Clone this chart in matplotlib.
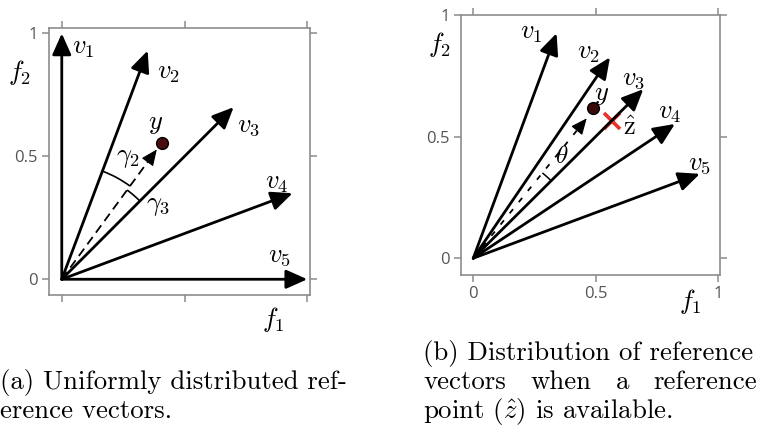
import matplotlib
matplotlib.use("Agg")
import matplotlib.pyplot as plt
import numpy as np
from matplotlib.patches import Arc

plt.rcParams["mathtext.fontset"] = "cm"

# panel (a): uniformly distributed reference vectors
vec_a_x = [0.0, 0.35, 0.70, 0.94, 1.0]
vec_a_y = [1.0, 0.93, 0.70, 0.35, 0.0]
point_a = [0.407, 0.556]
proj_a = [0.387, 0.528]

# panel (b): vectors focused around the reference point
vec_b_x = [0.34, 0.558, 0.694, 0.823, 0.925]
vec_b_y = [0.925, 0.826, 0.695, 0.552, 0.347]
point_b = [0.487, 0.617]
proj_b = [0.463, 0.575]
z_hat = [0.565, 0.566]

vec_labels = [r"$v_1$", r"$v_2$", r"$v_3$", r"$v_4$", r"$v_5$"]
tick_vals = [0, 0.5, 1]
tick_text = ["0", "0.5", "1"]

W, H = 760, 434
FRAME = "#8c8c8c"
LBL = 19


def setup_axis(ax, xlim, ylim, xlabels):
    ax.set_xlim(*xlim)
    ax.set_ylim(*ylim)
    ax.set_xticks(tick_vals)
    ax.set_yticks(tick_vals)
    ax.set_yticklabels(tick_text)
    ax.set_xticklabels(tick_text if xlabels else [])
    for sp in ax.spines.values():
        sp.set_color(FRAME)
        sp.set_linewidth(1.2)
    ax.tick_params(direction="out", length=5, width=1.1, color=FRAME,
                   labelcolor="#555555", labelsize=12, pad=3,
                   top=True, right=True, labeltop=False, labelright=False,
                   labelbottom=xlabels)
    for lab in ax.get_xticklabels() + ax.get_yticklabels():
        lab.set_fontfamily("Open Sans")


def draw_vec(ax, x, y, lw=2.0, hl=0.65, hw=0.29):
    ax.annotate("", xy=(x, y), xytext=(0, 0),
                arrowprops=dict(arrowstyle=f"-|>,head_length={hl},head_width={hw}",
                                mutation_scale=20, lw=lw, color="black",
                                shrinkA=0, shrinkB=0))


def draw_dashed(ax, end, dashes):
    ex, ey = end
    ax.plot([0, ex * 0.96], [0, ey * 0.96], color="black", lw=1.3,
            dashes=dashes, solid_capstyle="butt")
    ax.annotate("", xy=(ex, ey), xytext=(ex * 0.94, ey * 0.94),
                arrowprops=dict(arrowstyle="-|>,head_length=0.5,head_width=0.22",
                                mutation_scale=20, lw=0.8, color="black",
                                shrinkA=0, shrinkB=0))


fig = plt.figure(figsize=(W / 100, H / 100), dpi=100)

# ---- (a)
ax_a = fig.add_axes([49 / W, (H - 295) / H, 261 / W, 267 / H])
setup_axis(ax_a, (-0.052, 1.011), (-0.064, 1.022), xlabels=False)
for x, y in zip(vec_a_x, vec_a_y):
    draw_vec(ax_a, x, y)
draw_dashed(ax_a, proj_a, (5, 3))
ax_a.plot(*point_a, "o", ms=8.5, mfc="#4a0c0c", mec="black", mew=1.0)

ang_proj = np.degrees(np.arctan2(proj_a[1], proj_a[0]))
ang_v2 = np.degrees(np.arctan2(vec_a_y[1], vec_a_x[1]))
ang_v3 = np.degrees(np.arctan2(vec_a_y[2], vec_a_x[2]))
ax_a.add_patch(Arc((0, 0), 0.94, 0.94, theta1=ang_proj, theta2=ang_v2, lw=1.2))
ax_a.add_patch(Arc((0, 0), 0.90, 0.90, theta1=ang_v3, theta2=ang_proj, lw=1.2))

lab_pos_a = [(0.088, 0.946), (0.434, 0.844), (0.76, 0.627), (0.874, 0.397), (0.888, 0.099)]
for (lx, ly), t in zip(lab_pos_a, vec_labels):
    ax_a.text(lx, ly, t, fontsize=LBL, ha="center", va="center")
ax_a.text(0.38, 0.634, r"$y$", fontsize=LBL, ha="center", va="center")
ax_a.text(0.269, 0.496, r"$\gamma_2$", fontsize=LBL, ha="center", va="center")
ax_a.text(0.393, 0.302, r"$\gamma_3$", fontsize=LBL, ha="center", va="center")
ax_a.text(-0.17, 0.843, r"$f_2$", fontsize=LBL, ha="center", va="center", clip_on=False)
ax_a.text(0.86, -0.165, r"$f_1$", fontsize=LBL, ha="center", va="center", clip_on=False)

# ---- (b)
ax_b = fig.add_axes([461 / W, (H - 275) / H, 259 / W, 260 / H])
setup_axis(ax_b, (-0.050, 1.007), (-0.069, 1.0), xlabels=True)
for x, y in zip(vec_b_x, vec_b_y):
    draw_vec(ax_b, x, y)
draw_dashed(ax_b, proj_b, (3, 5))
ax_b.plot(*point_b, "o", ms=8.5, mfc="#3a0a0a", mec="black", mew=1.0)
ax_b.plot(*z_hat, "x", ms=12, mew=2.6, color="#e8332b")

ang_proj_b = np.degrees(np.arctan2(proj_b[1], proj_b[0]))
ang_v3_b = np.degrees(np.arctan2(vec_b_y[2], vec_b_x[2]))
ax_b.add_patch(Arc((0, 0), 0.90, 0.90, theta1=ang_v3_b, theta2=ang_proj_b, lw=1.1))

lab_pos_b = [(0.238, 0.932), (0.469, 0.849), (0.653, 0.74), (0.803, 0.603), (0.925, 0.39)]
for (lx, ly), t in zip(lab_pos_b, vec_labels):
    ax_b.text(lx, ly, t, fontsize=LBL, ha="center", va="center")
ax_b.text(0.524, 0.675, r"$y$", fontsize=LBL, ha="center", va="center")
ax_b.text(0.639, 0.534, r"$\hat{\mathrm{z}}$", fontsize=LBL, ha="center", va="center")
ax_b.text(0.36, 0.42, r"$\theta$", fontsize=LBL - 1, ha="center", va="center")
ax_b.text(-0.136, 0.877, r"$f_2$", fontsize=LBL, ha="center", va="center", clip_on=False)
ax_b.text(0.884, -0.18, r"$f_1$", fontsize=LBL, ha="center", va="center", clip_on=False)

# ---- captions
CAP = dict(fontsize=19.3, fontfamily="cmr10", va="baseline")
fig.text(0 / W, 1 - 389 / H, "(a) Uniformly distributed ref-", ha="left", **CAP)
fig.text(0 / W, 1 - 418 / H, "erence vectors.", ha="left", **CAP)

bx0, bx1 = 423 / W, 757 / W
fig.text(bx0, 1 - 360 / H, "(b) Distribution of reference", ha="left", **CAP)
fig.text(bx0, 1 - 418 / H, r"point ($\hat{z}$) is available.", ha="left", **CAP)

# justified middle line
words = ["vectors", "when", "a", "reference"]
renderer = fig.canvas.get_renderer()
objs = [fig.text(0, 1 - 389 / H, w, ha="left", **CAP) for w in words]
widths = [o.get_window_extent(renderer).width / W for o in objs]
gap = (bx1 - bx0 - sum(widths)) / (len(words) - 1)
xpos = bx0
for o, w in zip(objs, widths):
    o.set_x(xpos)
    xpos += w + gap

fig.savefig("out.png", dpi=100)
